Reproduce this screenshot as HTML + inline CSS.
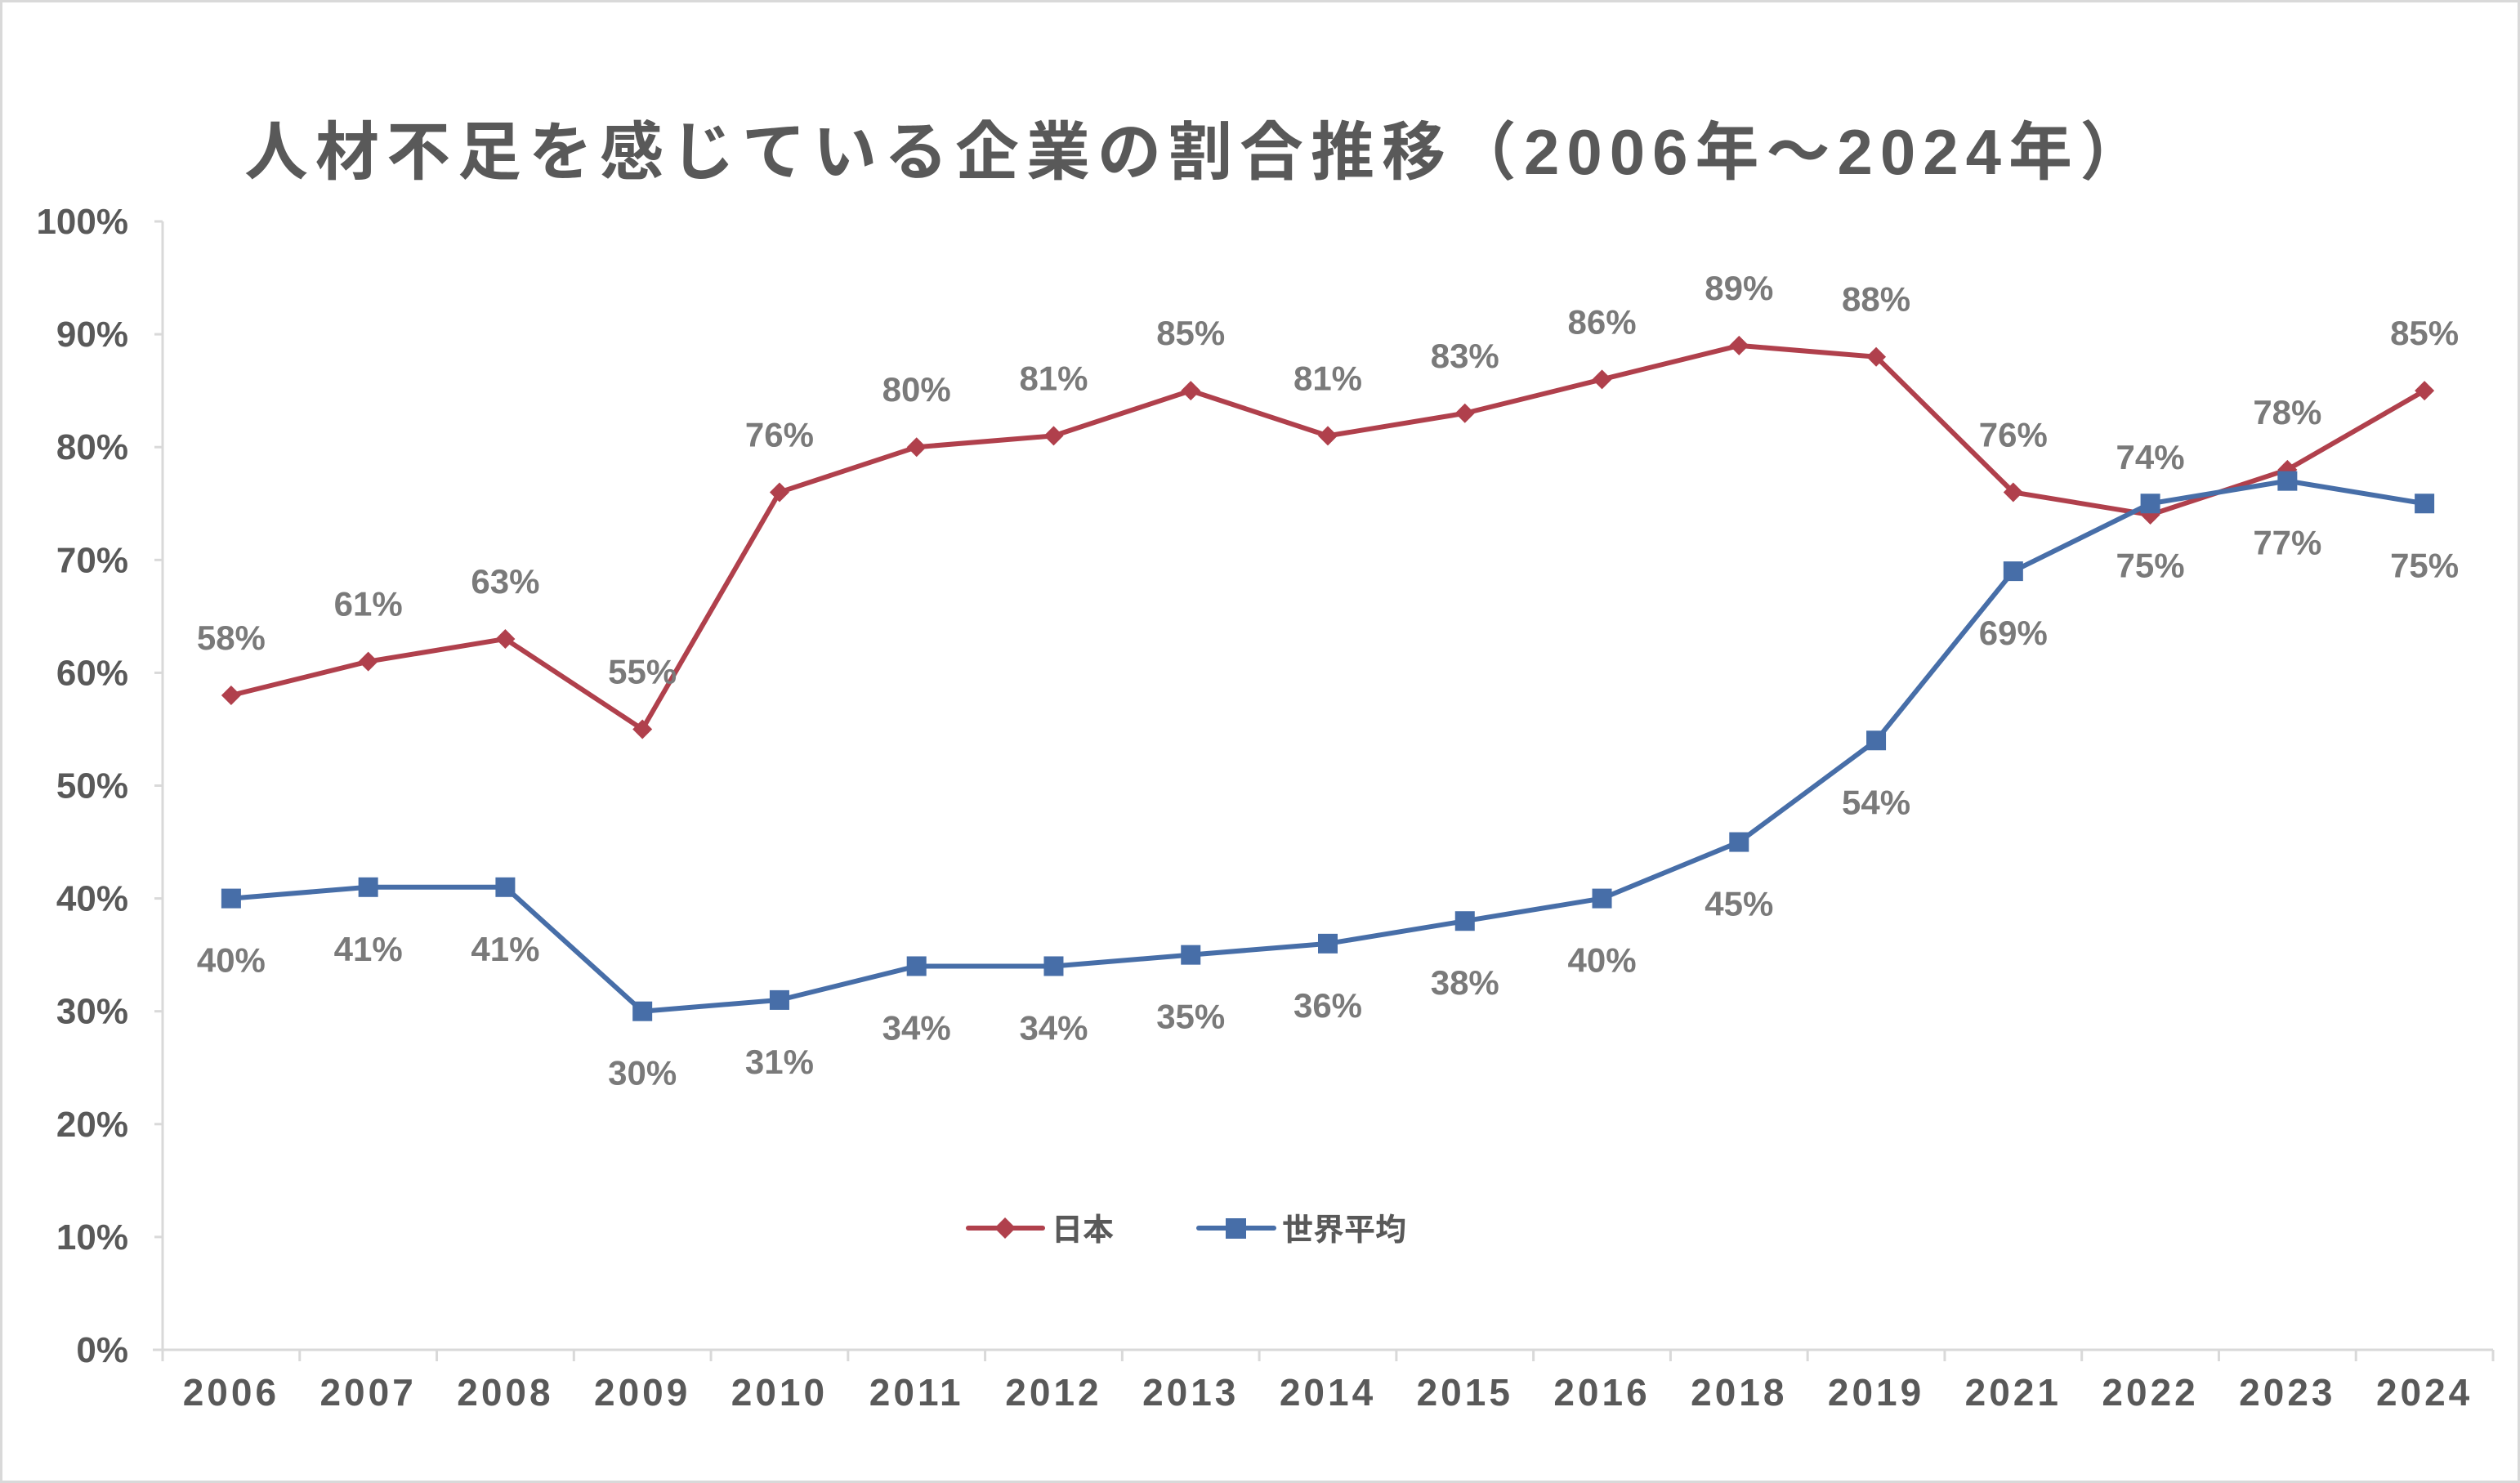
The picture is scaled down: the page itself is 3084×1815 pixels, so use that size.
<!DOCTYPE html>
<html><head><meta charset="utf-8"><style>
html,body{margin:0;padding:0;background:#fff}
svg{display:block}
</style></head><body>
<svg id="chart" width="3084" height="1815" viewBox="0 0 3084 1815" xmlns="http://www.w3.org/2000/svg">
<rect x="1.5" y="1.5" width="3081" height="1812" fill="#fff" stroke="#d9d9d9" stroke-width="3"/>
<text x="299" y="213" font-family="'Liberation Sans','Noto Sans CJK JP',sans-serif" font-weight="bold" font-size="78" fill="#595959" letter-spacing="9">人材不足を感じている企業の割合推移（2006年～2024年）</text>
<g id="axes"></g>
<g id="series"></g>
<g id="labels"></g>
<g>
  <line x1="1185" y1="1503" x2="1276" y2="1503" stroke="#b0404c" stroke-width="6" stroke-linecap="round"/>
  <path d="M1230,1490 L1243,1503 L1230,1516 L1217,1503 Z" fill="#b0404c"/>
  <text x="1287" y="1518" font-family="'Liberation Sans','Noto Sans CJK JP',sans-serif" font-weight="bold" font-size="38" fill="#595959">日本</text>
  <line x1="1467" y1="1503" x2="1559" y2="1503" stroke="#476ea8" stroke-width="6" stroke-linecap="round"/>
  <rect x="1500" y="1491" width="25" height="25" fill="#476ea8"/>
  <text x="1569" y="1518" font-family="'Liberation Sans','Noto Sans CJK JP',sans-serif" font-weight="bold" font-size="38" fill="#595959">世界平均</text>
</g>
</svg>
<script>
const categories = ['2006','2007','2008','2009','2010','2011','2012','2013','2014','2015','2016','2018','2019','2021','2022','2023','2024'];
const japanValues = [58,61,63,55,76,80,81,85,81,83,86,89,88,76,74,78,85];
const worldValues = [40,41,41,30,31,34,34,35,36,38,40,45,54,69,75,77,75];
const yTicks = [0,10,20,30,40,50,60,70,80,90,100];

const NS='http://www.w3.org/2000/svg';
const plotLeft=199, plotRight=3051, y0=1652, y100=271;
const band=(plotRight-plotLeft)/categories.length;
function xScale(i){return plotLeft+band*(i+0.5);}
function yScale(v){return y0-(v/100)*(y0-y100);}
function mk(tag,attrs,parent){const e=document.createElementNS(NS,tag);for(const k in attrs)e.setAttribute(k,attrs[k]);parent.appendChild(e);return e;}
const axes=document.getElementById('axes'), series=document.getElementById('series'), labels=document.getElementById('labels');
const font="'Liberation Sans','Noto Sans CJK JP',sans-serif";

let yl=mk('line',{x1:plotLeft,y1:y100,x2:plotLeft,y2:y0,stroke:'#d9d9d9','stroke-width':3},axes);


yTicks.forEach(t=>{
  const y=yScale(t);
  const tk=mk('line',{x1:plotLeft-10,y1:y,x2:plotLeft,y2:y,stroke:'#d9d9d9','stroke-width':3},axes);
  
  
  const tx=mk('text',{x:157,y:y+15,'text-anchor':'end','font-family':font,'font-size':44,'font-weight':'bold',fill:'#595959'},axes);
  tx.textContent=t+'%';
  
  
});
let xl=mk('line',{x1:plotLeft-12,y1:y0,x2:plotRight,y2:y0,stroke:'#d9d9d9','stroke-width':3},axes);


for(let i=0;i<=categories.length;i++){
  const x=plotLeft+band*i;
  const tk=mk('line',{x1:x,y1:y0,x2:x,y2:y0+14,stroke:'#d9d9d9','stroke-width':3},axes);
  
  
}
categories.forEach((c,i)=>{
  const tx=mk('text',{x:xScale(i),y:1720,'text-anchor':'middle','font-family':font,'font-size':46,'font-weight':'bold',fill:'#595959','letter-spacing':4},axes);
  tx.textContent=c;
  
  
});

function drawSeries(vals,color,name,marker,labelDy){
  const pts=vals.map((v,i)=>xScale(i)+','+yScale(v)).join(' ');
  const pl=mk('polyline',{points:pts,fill:'none',stroke:color,'stroke-width':6,'stroke-linejoin':'round','stroke-linecap':'round'},series);
  
  
  vals.forEach((v,i)=>{
    const x=xScale(i),y=yScale(v);
    let m;
    if(marker==='diamond'){
      m=mk('path',{d:`M${x},${y-12} L${x+12},${y} L${x},${y+12} L${x-12},${y} Z`,fill:color},series);
    }else{
      m=mk('rect',{x:x-12,y:y-12,width:24,height:24,fill:color},series);
    }
    
    
    const t=mk('text',{x:x,y:y+labelDy,'text-anchor':'middle','font-family':font,'font-size':42,'font-weight':'bold',fill:'#7a7a7a'},labels);
    t.textContent=v+'%';
    
    
  });
}
drawSeries(japanValues,'#b0404c','japan','diamond',-56);
drawSeries(worldValues,'#476ea8','world','square',90);
</script>
</body></html>
